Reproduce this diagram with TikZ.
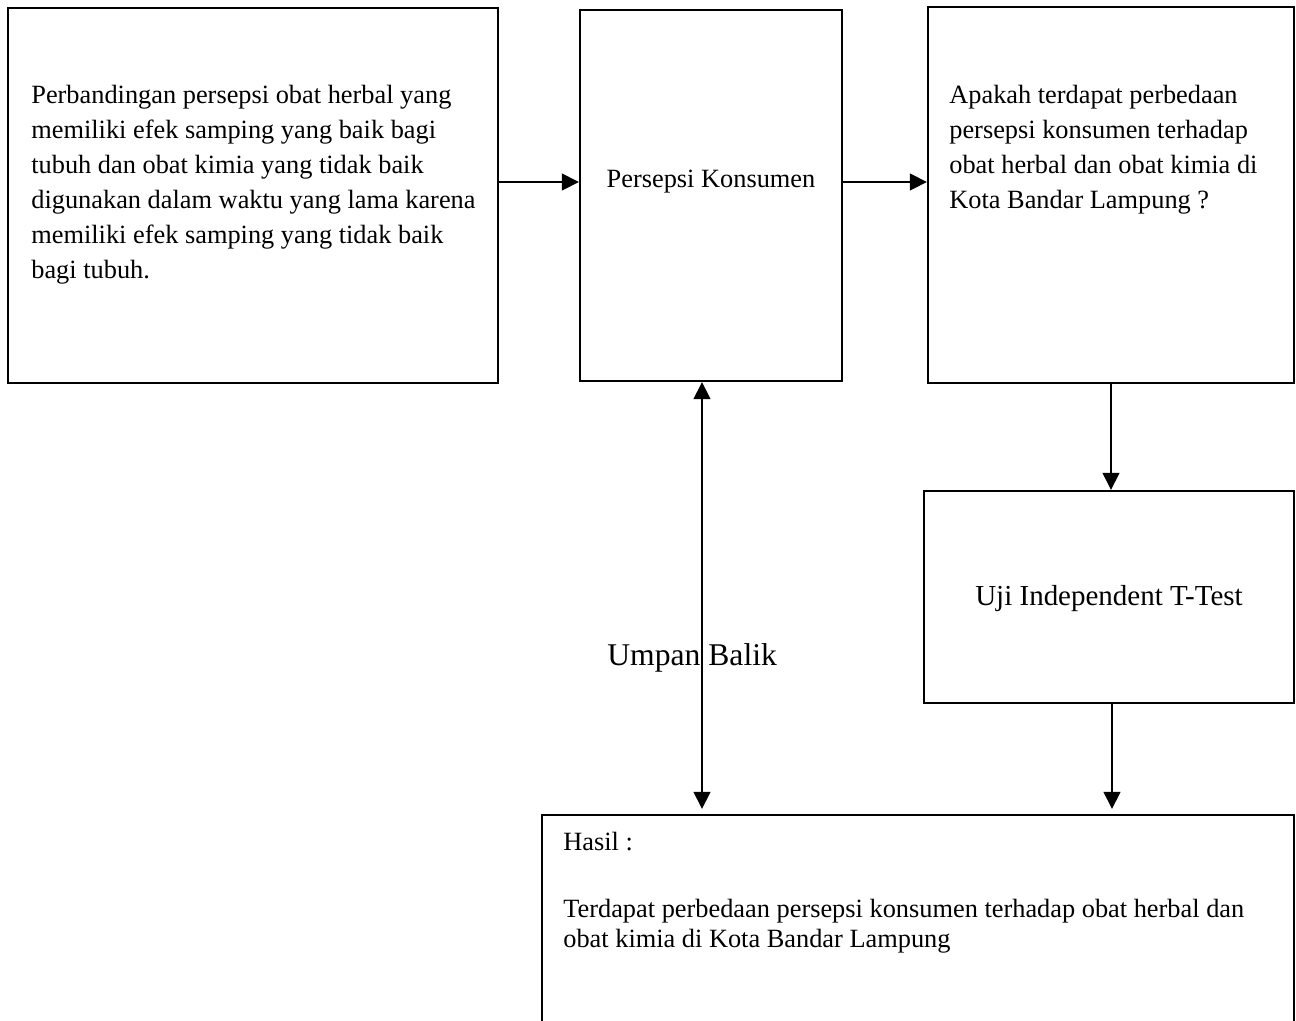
\documentclass[tikz,border=0pt]{standalone}
\usepackage{fontspec}
\setmainfont{Liberation Serif}
\usetikzlibrary{arrows.meta}

\tikzset{
  kotak/.style={draw, line width=1.2pt, inner sep=0pt},
  teks/.style={anchor=base west, inner sep=0pt, font=\fontsize{15}{18}\selectfont},
  panah/.style={line width=1.3pt, -{Triangle[length=0.34cm,width=0.33cm]}},
  panahdua/.style={line width=1.3pt, {Triangle[length=0.34cm,width=0.33cm]}-{Triangle[length=0.34cm,width=0.33cm]}},
}

\begin{document}
\begin{tikzpicture}[x=0.02cm,y=-0.02cm]
\useasboundingbox (0,0) rectangle (1296,1021);
\clip (0,0) rectangle (1296,1021);

% kotak
\node[kotak, minimum width=9.8cm, minimum height=7.5cm] (masalah) at (253,195.5) {};
\node[kotak, minimum width=5.24cm, minimum height=7.42cm] (persepsi) at (711,195.5) {};
\node[kotak, minimum width=7.32cm, minimum height=7.52cm] (pertanyaan) at (1111,195) {};
\node[kotak, minimum width=7.4cm, minimum height=4.24cm] (uji) at (1109,597) {};
\node[kotak, minimum width=15.04cm, minimum height=4.5cm] (hasil) at (918,927.5) {};

% teks kotak pertama
\node[teks] (pb1) at (31,103) {Perbandingan persepsi obat herbal yang};
\node[teks] (pb2) at (31,138) {memiliki efek samping yang baik bagi};
\node[teks] (pb3) at (31,173) {tubuh dan obat kimia yang tidak baik};
\node[teks] (pb4) at (31,208) {digunakan dalam waktu yang lama karena};
\node[teks] (pb5) at (31,243) {memiliki efek samping yang tidak baik};
\node[teks] (pb6) at (31,278) {bagi tubuh.};

\node[teks, anchor=base] (pk) at (711,187) {Persepsi Konsumen};

\node[teks] (ap1) at (949,103) {Apakah terdapat perbedaan};
\node[teks] (ap2) at (949,138) {persepsi konsumen terhadap};
\node[teks] (ap3) at (949,173) {obat herbal dan obat kimia di};
\node[teks] (ap4) at (949,208) {Kota Bandar Lampung ?};

\node[teks, anchor=base, font=\fontsize{16.5}{20}\selectfont] (ujit) at (1109,605) {Uji Independent T-Test};

\node[teks, font=\fontsize{18}{22}\selectfont] (umpan) at (607,665) {Umpan Balik};

\node[teks] (hs1) at (563,850) {Hasil :};
\node[teks] (hs2) at (563,917) {Terdapat perbedaan persepsi konsumen terhadap obat herbal dan};
\node[teks] (hs3) at (563,947) {obat kimia di Kota Bandar Lampung};

% panah
\draw[panah] ([yshift=0.27cm]masalah.east) -- ([yshift=0.27cm]masalah.east -| persepsi.west);
\draw[panah] ([yshift=0.27cm]persepsi.east) -- ([yshift=0.27cm]persepsi.east -| pertanyaan.west);
\draw[panah] (pertanyaan.south) -- (pertanyaan.south |- uji.north);
\draw[panah, shorten >=0.1cm] ([xshift=0.06cm]uji.south) -- ([xshift=0.06cm]uji.south |- hasil.north);
\draw[panahdua, shorten >=0.1cm] ([xshift=-0.18cm]persepsi.south) -- ([xshift=-0.18cm]persepsi.south |- hasil.north);
\end{tikzpicture}
\end{document}
